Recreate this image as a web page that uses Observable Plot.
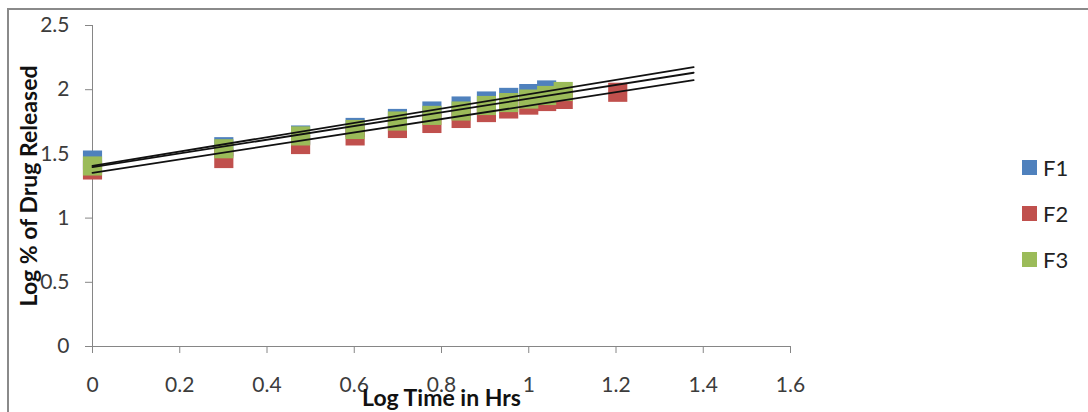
<!DOCTYPE html>
<html>
<head>
<meta charset="utf-8">
<script src="https://cdn.jsdelivr.net/npm/d3@7"></script>
<script src="https://cdn.jsdelivr.net/npm/@observablehq/plot@0.6"></script>
<style>
  html, body { margin: 0; padding: 0; background: #fff; overflow: hidden; }
  #wrap { position: relative; width: 1088px; height: 412px; overflow: hidden; }
  #frame { position: absolute; left: 7px; top: 8px; width: 1200px; height: 600px; border: 2px solid #8a8a8a; box-sizing: border-box; }
  #chart { position: absolute; left: 0; top: 0; }
  #legend { position: absolute; left: 1022px; top: 144px; font-family: Lato, "Liberation Sans", sans-serif; font-size: 22px; color: #222; }
  .item { display: flex; align-items: center; height: 46px; }
  .sw { width: 15px; height: 15px; margin-right: 6px; }
</style>
</head>
<body>
<div id="wrap">
  <div id="frame"></div>
  <div id="chart"></div>
  <div id="legend"></div>
</div>
<script>
// Log time (hrs) values
const xF1 = [0, 0.301, 0.477, 0.602, 0.699, 0.778, 0.845, 0.903, 0.954, 1.0, 1.041];
const xF2 = [0, 0.301, 0.477, 0.602, 0.699, 0.778, 0.845, 0.903, 0.954, 1.0, 1.041, 1.079, 1.204];
const xF3 = [0, 0.301, 0.477, 0.602, 0.699, 0.778, 0.845, 0.903, 0.954, 1.0, 1.041, 1.079];
// Log % drug released
const yF1 = [1.452, 1.556, 1.647, 1.706, 1.776, 1.834, 1.873, 1.912, 1.940, 1.970, 1.998];
const yF2 = [1.375, 1.464, 1.573, 1.640, 1.698, 1.737, 1.776, 1.822, 1.850, 1.880, 1.908, 1.924, 1.980];
const yF3 = [1.406, 1.540, 1.640, 1.690, 1.756, 1.800, 1.834, 1.877, 1.900, 1.927, 1.955, 1.986];

const seriesNames = ["F1", "F2", "F3"];
const seriesColors = ["#4f81bd", "#c0504d", "#9bbb59"];

// Linear trendlines: value at start and end of the forecast range
const trendX0 = 0;
const trendX1 = 1.378;
const trendStart = [1.407, 1.353, 1.397];
const trendEnd = [2.175, 2.074, 2.132];

const xTicks = [0, 0.2, 0.4, 0.6, 0.8, 1, 1.2, 1.4, 1.6];
const yTicks = [0, 0.5, 1, 1.5, 2, 2.5];

const xs = [xF1, xF2, xF3];
const ys = [yF1, yF2, yF3];
const points = [];
seriesNames.forEach((s, i) => xs[i].forEach((x, j) => points.push({series: s, x, y: ys[i][j]})));
const trends = [];
seriesNames.forEach((s, i) => {
  trends.push({series: s, x: trendX0, y: trendStart[i]});
  trends.push({series: s, x: trendX1, y: trendEnd[i]});
});

const font = "Lato, 'Liberation Sans', sans-serif";
const axisColor = "#868686";

const chart = Plot.plot({
  width: 1088,
  height: 412,
  marginLeft: 92,
  marginRight: 298,
  marginTop: 25,
  marginBottom: 66,
  style: {fontFamily: font, fontSize: "21px", background: "transparent", overflow: "visible"},
  x: {domain: [0, 1.6]},
  y: {domain: [0, 2.5]},
  color: {domain: seriesNames, range: seriesColors},
  marks: [
    Plot.ruleX([0], {stroke: axisColor, strokeWidth: 1}),
    Plot.ruleY([0], {stroke: axisColor, strokeWidth: 1}),
    Plot.axisY({ticks: yTicks, tickSize: 7, tickPadding: 16, stroke: axisColor, color: "#3c3c3c", fontSize: 21, tickFormat: d => String(d), label: null}),
    Plot.axisX({ticks: xTicks, tickSize: 7, tickPadding: 24, stroke: axisColor, color: "#3c3c3c", fontSize: 21, tickFormat: d => String(d), label: null}),
    Plot.dot(points, {x: "x", y: "y", fill: "series", symbol: "square", r: 10.8, stroke: null}),
    Plot.line(trends, {x: "x", y: "y", z: "series", stroke: "#111", strokeWidth: 1.8}),
    Plot.text(["Log % of Drug Released"], {frameAnchor: "left", rotate: -90, dx: -63, fontWeight: "bold", fontSize: 23, fill: "#111", textAnchor: "middle"}),
    Plot.text(["Log Time in Hrs"], {frameAnchor: "bottom", dy: 52, fontWeight: "bold", fontSize: 23, fill: "#111", textAnchor: "middle", lineAnchor: "middle"})
  ]
});
document.getElementById("chart").appendChild(chart);

const legend = document.getElementById("legend");
seriesNames.forEach((s, i) => {
  const item = document.createElement("div");
  item.className = "item";
  const sw = document.createElement("div");
  sw.className = "sw";
  sw.style.background = seriesColors[i];
  const label = document.createElement("span");
  label.textContent = s;
  item.appendChild(sw);
  item.appendChild(label);
  legend.appendChild(item);
});
</script>
</body>
</html>
